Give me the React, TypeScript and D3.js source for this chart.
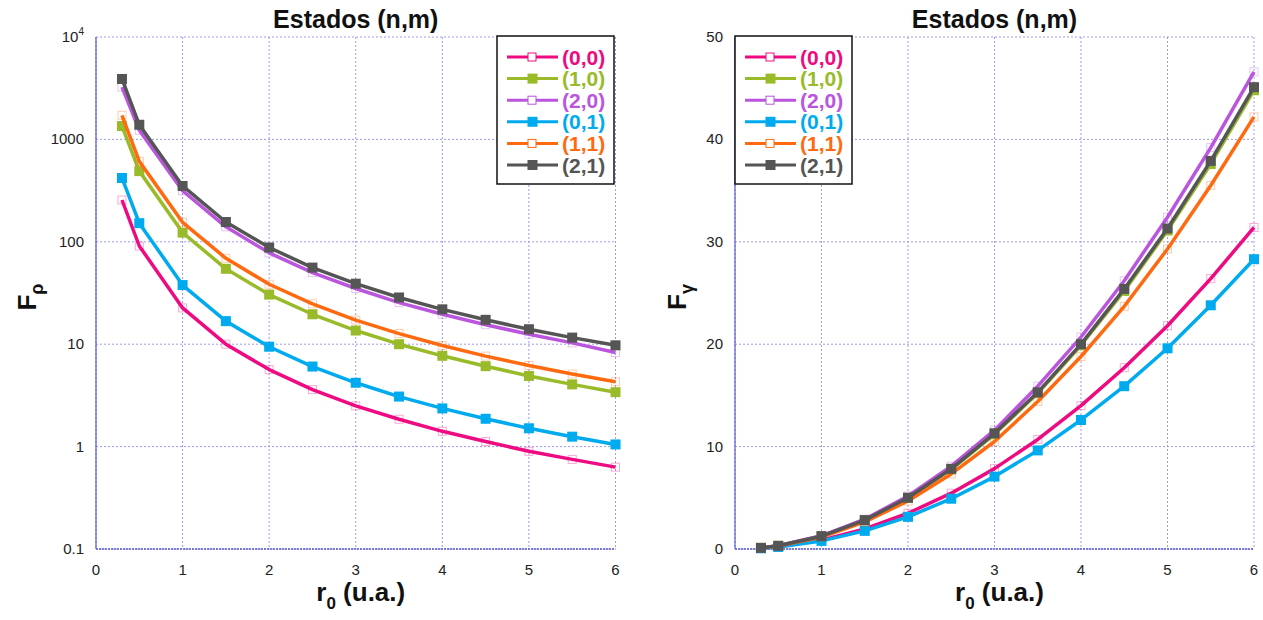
import React from "react";
import * as d3 from "d3";

const rValues = [0.3, 0.5, 1, 1.5, 2, 2.5, 3, 3.5, 4, 4.5, 5, 5.5, 6];
const seriesNames = ["(0,0)", "(1,0)", "(2,0)", "(0,1)", "(1,1)", "(2,1)"];
const seriesColors = ["#ee0a80", "#99bb2a", "#bb55dd", "#00aaee", "#ff6a10", "#555555"];
const seriesFilled = [false, true, false, true, false, true];

// Left panel: F_rho (log scale)
const frho00 = [256, 91, 22.6, 10.0, 5.65, 3.6, 2.5, 1.85, 1.41, 1.12, 0.9, 0.75, 0.63];
const frho10 = [1350, 490, 123, 54.5, 30.5, 19.6, 13.6, 10.0, 7.7, 6.1, 4.9, 4.05, 3.4];
const frho20 = [3240, 1230, 315, 140, 78, 50, 35, 25.5, 19.6, 15.5, 12.5, 10.3, 8.3];
const frho01 = [420, 152, 37.8, 16.8, 9.45, 6.05, 4.2, 3.08, 2.36, 1.87, 1.51, 1.25, 1.05];
const frho11 = [1720, 610, 155, 69, 38.5, 24.8, 17.2, 12.7, 9.7, 7.65, 6.2, 5.12, 4.3];
const frho21 = [3890, 1390, 351, 156, 88, 56, 39, 28.6, 21.9, 17.3, 14.0, 11.6, 9.75];

// Right panel: F_gamma (linear)
const fgam00 = [0.08, 0.22, 0.87, 1.96, 3.49, 5.45, 7.85, 10.7, 14.0, 17.7, 21.8, 26.4, 31.4];
const fgam10 = [0.11, 0.31, 1.24, 2.8, 4.98, 7.78, 11.2, 15.2, 19.9, 25.2, 31.1, 37.6, 44.8];
const fgam20 = [0.12, 0.32, 1.29, 2.91, 5.18, 8.09, 11.6, 15.9, 20.7, 26.2, 32.4, 39.2, 46.6];
const fgam01 = [0.07, 0.2, 0.79, 1.77, 3.14, 4.91, 7.07, 9.63, 12.6, 15.9, 19.6, 23.8, 28.3];
const fgam11 = [0.1, 0.29, 1.17, 2.64, 4.69, 7.33, 10.5, 14.4, 18.8, 23.7, 29.3, 35.5, 42.2];
const fgam21 = [0.11, 0.31, 1.25, 2.82, 5.01, 7.83, 11.3, 15.3, 20.0, 25.4, 31.3, 37.9, 45.1];

const xTicks = [0, 1, 2, 3, 4, 5, 6];
const logTicks = [0.1, 1, 10, 100, 1000, 10000];
const logTickLabels = ["0.1", "1", "10", "100", "1000", "10^4"];
const linTicks = [0, 10, 20, 30, 40, 50];

const leftSeries = [frho00, frho10, frho20, frho01, frho11, frho21];
const rightSeries = [fgam00, fgam10, fgam20, fgam01, fgam11, fgam21];

const FONT = "Arial, 'Liberation Sans', Helvetica, sans-serif";
const GRID = "#9a9aee";
const AXIS = "#5a5ad0";

type PanelProps = {
  left: number;
  right: number;
  top: number;
  bottom: number;
  log: boolean;
  series: number[][];
  yLabelSub: string;
  yLabelX: number;
  legendX: number;
};

function Panel(p: PanelProps) {
  const x = d3.scaleLinear().domain([0, 6]).range([p.left, p.right]);
  const y = p.log
    ? d3.scaleLog().domain([0.1, 10000]).range([p.bottom, p.top])
    : d3.scaleLinear().domain([0, 50]).range([p.bottom, p.top]);
  const yTicks = p.log ? logTicks : linTicks;
  const line = d3
    .line<number>()
    .x((_, i) => x(rValues[i]))
    .y((v) => y(v));
  const cx = (p.left + p.right) / 2;

  return (
    <g>
      {xTicks.map((t) => (
        <line key={"gx" + t} x1={x(t)} x2={x(t)} y1={p.top} y2={p.bottom}
          stroke={GRID} strokeWidth={1} strokeDasharray="2,2" />
      ))}
      {yTicks.map((t) => (
        <line key={"gy" + t} x1={p.left} x2={p.right} y1={y(t)} y2={y(t)}
          stroke={GRID} strokeWidth={1} strokeDasharray="2,2" />
      ))}
      <line x1={p.left} x2={p.left} y1={p.top} y2={p.bottom} stroke={AXIS} strokeWidth={1.2} />
      <line x1={p.left} x2={p.right} y1={p.bottom} y2={p.bottom} stroke={AXIS} strokeWidth={1.5} strokeDasharray="2,1" />
      {xTicks.map((t) => (
        <text key={"tx" + t} x={x(t)} y={p.bottom + 26} textAnchor="middle"
          fontFamily={FONT} fontSize={15} fill="#222">{t}</text>
      ))}
      {yTicks.map((t, i) => {
        if (p.log && logTickLabels[i] === "10^4") {
          return (
            <text key={"ty" + t} x={p.left - 12} y={y(t) + 5} textAnchor="end"
              fontFamily={FONT} fontSize={15} fill="#222">
              10<tspan fontSize={10} dy={-7}>4</tspan>
            </text>
          );
        }
        return (
          <text key={"ty" + t} x={p.left - 12} y={y(t) + 5} textAnchor="end"
            fontFamily={FONT} fontSize={15} fill="#222">
            {p.log ? logTickLabels[i] : String(t)}
          </text>
        );
      })}
      <text x={cx} y={28} textAnchor="middle" fontFamily={FONT} fontWeight="bold"
        fontSize={25} fill="#111">Estados (n,m)</text>
      <text x={cx + 5} y={601} textAnchor="middle" fontFamily={FONT} fontWeight="bold"
        fontSize={26} fill="#111">
        r<tspan fontSize={17} dy={8}>0</tspan><tspan dy={-8}> (u.a.)</tspan>
      </text>
      <text transform={`translate(${p.yLabelX},${(p.top + p.bottom) / 2 + 4}) rotate(-90)`}
        textAnchor="middle" fontFamily={FONT} fontWeight="bold" fontSize={26} fill="#111">
        F<tspan fontSize={18} dy={7}>{p.yLabelSub}</tspan>
      </text>
      {p.series.map((s, si) => (
        <g key={"s" + si}>
          <path d={line(s) || ""} fill="none" stroke={seriesColors[si]} strokeWidth={3.5}
            strokeLinejoin="round" />
          {s.map((v, i) =>
            seriesFilled[si] ? (
              <rect key={i} x={x(rValues[i]) - 5} y={y(v) - 5} width={10} height={10}
                fill={seriesColors[si]} />
            ) : (
              <rect key={i} x={x(rValues[i]) - 4} y={y(v) - 4} width={8} height={8}
                fill="none" stroke={seriesColors[si]} strokeOpacity={0.35} strokeWidth={1} />
            )
          )}
        </g>
      ))}
      <g>
        <rect x={p.legendX} y={36} width={117} height={148} fill="#fff" stroke="#111" strokeWidth={1.5} />
        {seriesNames.map((n, i) => {
          const ly = 57 + i * 21.6;
          const lx = p.legendX;
          return (
            <g key={"l" + n}>
              <line x1={lx + 10} x2={lx + 61} y1={ly} y2={ly} stroke={seriesColors[i]} strokeWidth={3} />
              {seriesFilled[i] ? (
                <rect x={lx + 30.5} y={ly - 5} width={10} height={10} fill={seriesColors[i]} />
              ) : (
                <rect x={lx + 31} y={ly - 4} width={8} height={8} fill="#fff"
                  stroke={seriesColors[i]} strokeWidth={1} />
              )}
              <text x={lx + 65} y={ly + 7.5} fontFamily={FONT} fontWeight="bold" fontSize={21}
                fill={seriesColors[i]}>{n}</text>
            </g>
          );
        })}
      </g>
    </g>
  );
}

export default function App() {
  return (
    <svg width={1263} height={620} style={{ position: "absolute", left: 0, top: 0, background: "#fff" }}>
      <rect width={1263} height={620} fill="#fff" />
      <Panel left={96} right={615.5} top={37} bottom={549} log={true} series={leftSeries}
        yLabelSub="ρ" yLabelX={36} legendX={497} />
      <Panel left={735} right={1254} top={37} bottom={549} log={false} series={rightSeries}
        yLabelSub="γ" yLabelX={686} legendX={735} />
    </svg>
  );
}
